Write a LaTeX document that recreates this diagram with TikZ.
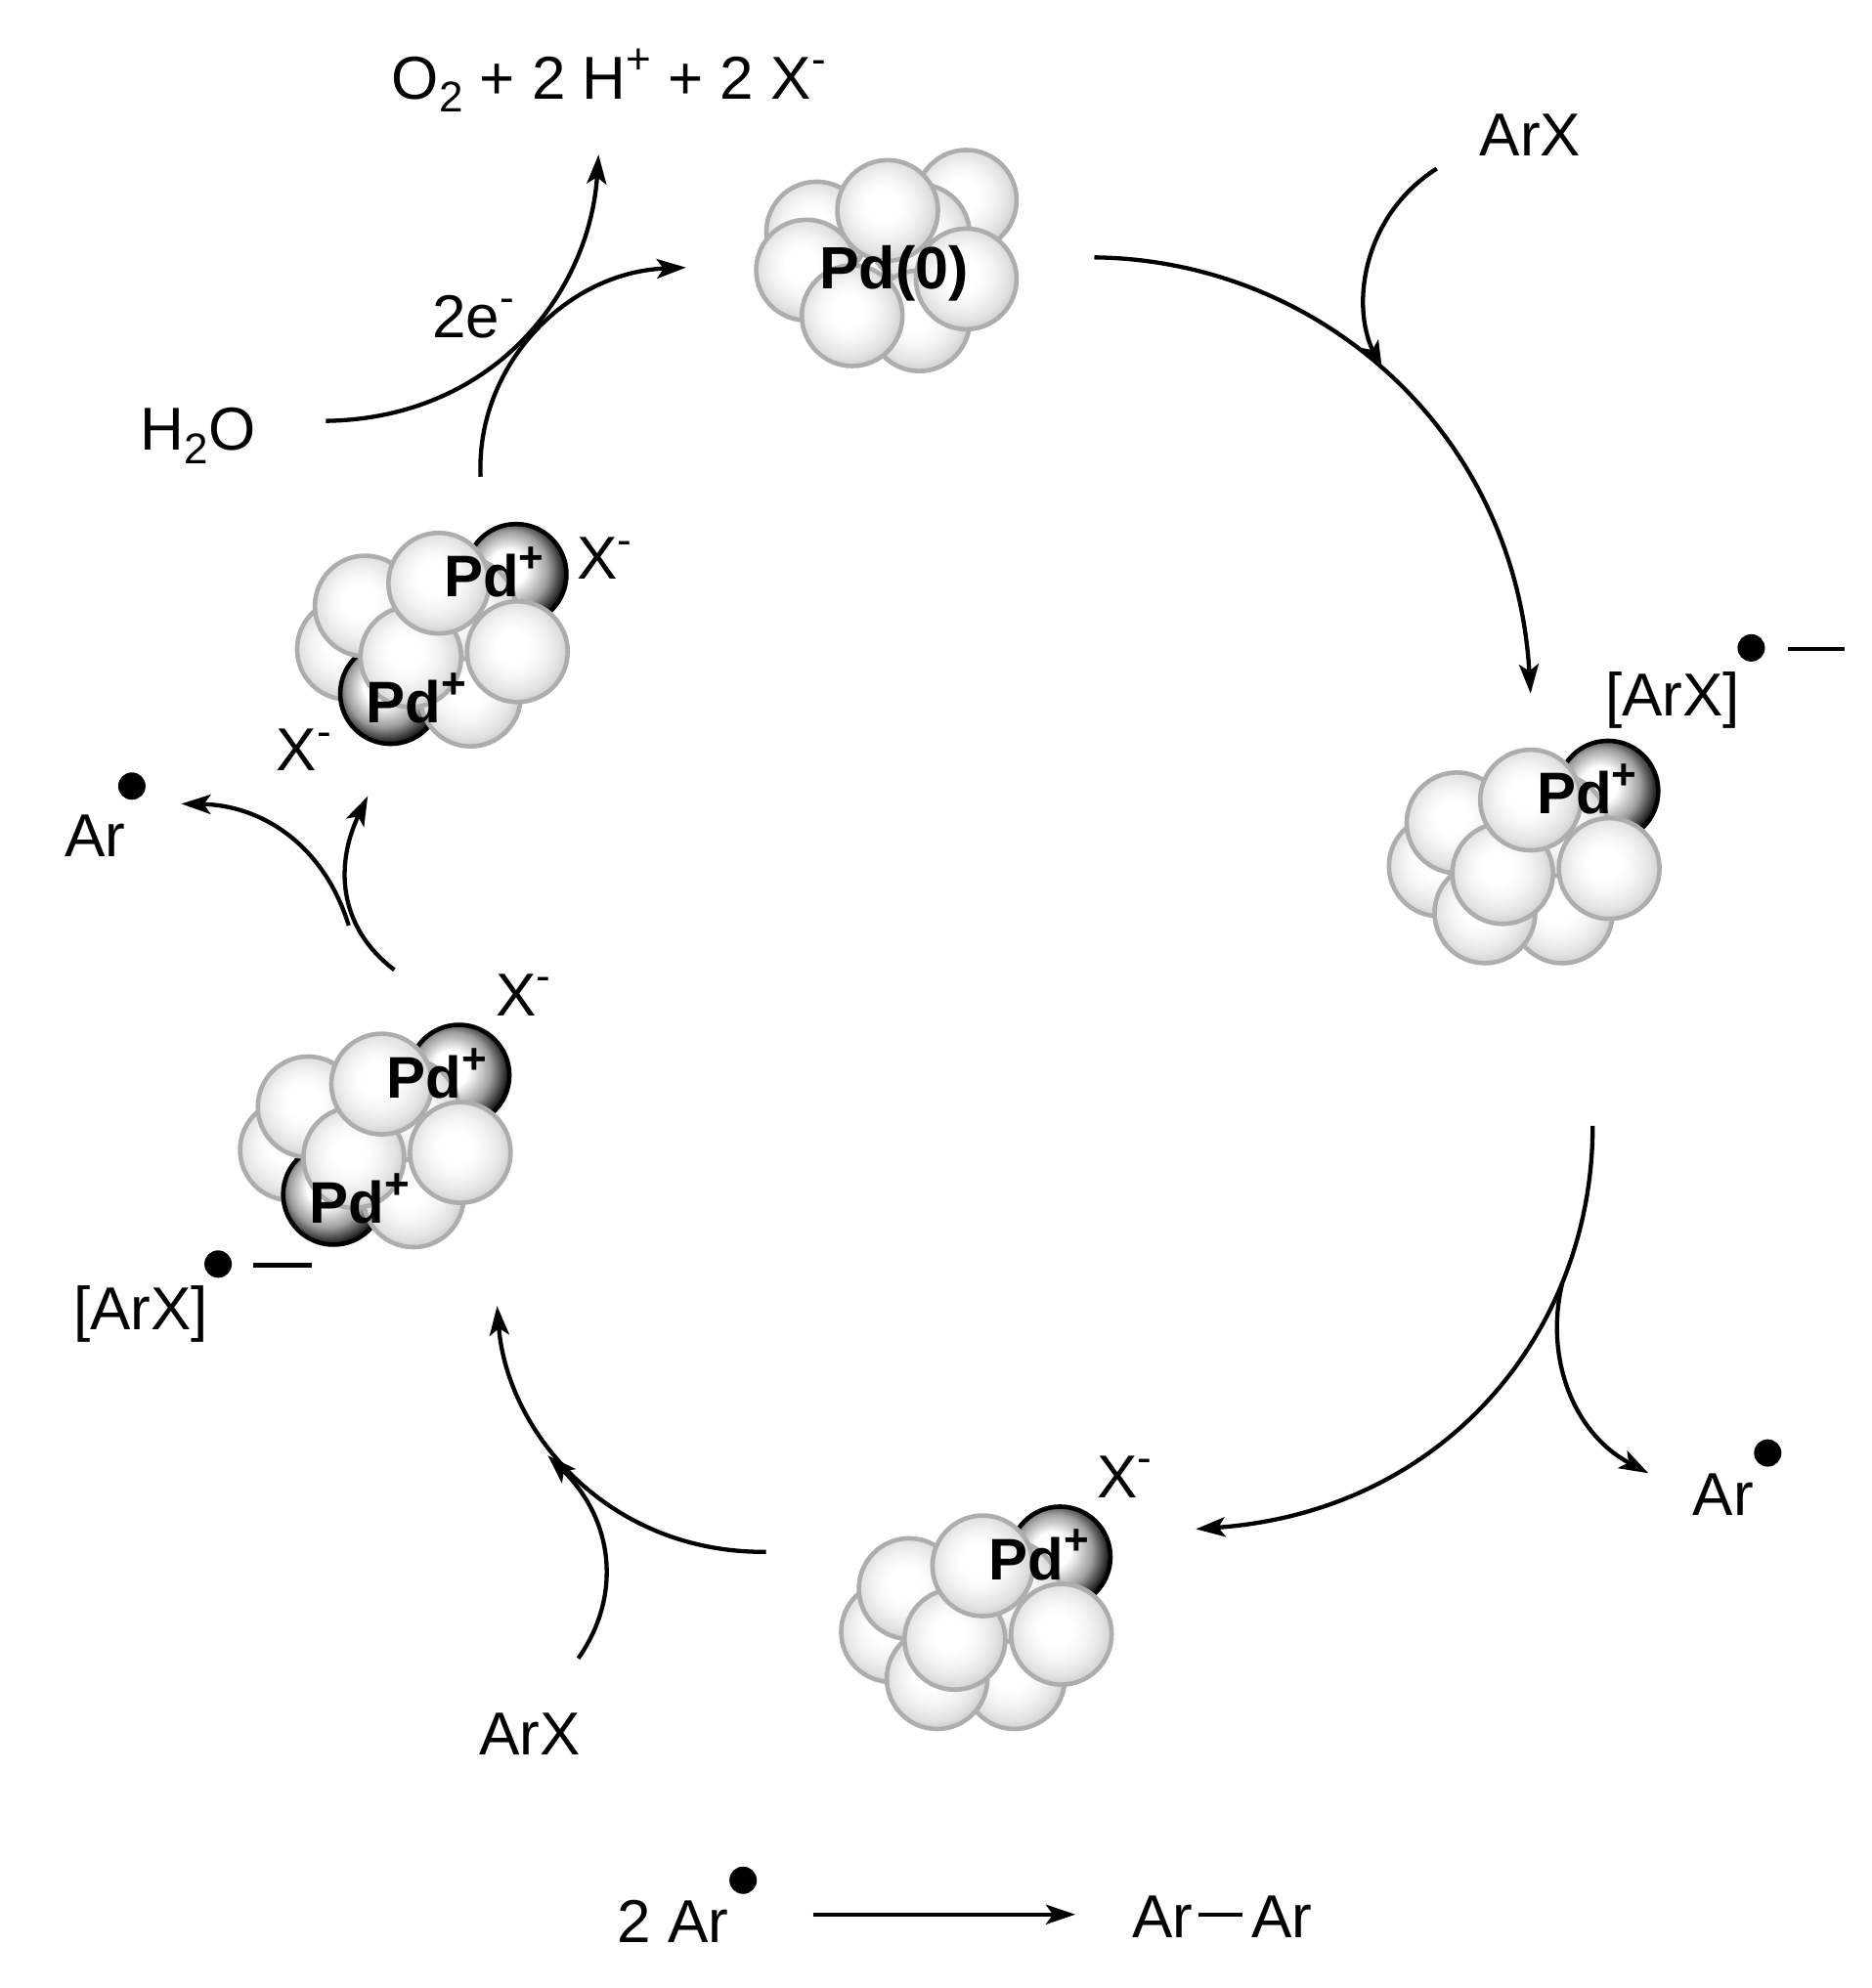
\documentclass[tikz,border=0pt]{standalone}
\usepackage{fontspec}
\setmainfont{Liberation Sans}
\usetikzlibrary{arrows.meta}
\definecolor{ballhi}{gray}{0.96}
\definecolor{ballmid}{gray}{0.89}
\definecolor{ballrim}{gray}{0.79}
\definecolor{ballline}{gray}{0.68}
\definecolor{darkmid}{gray}{0.62}
\pgfdeclareradialshading{ballshade}{\pgfpoint{-3bp}{3bp}}{color(0bp)=(white);color(8bp)=(white);color(15bp)=(ballhi);color(22bp)=(ballmid);color(28bp)=(ballrim);color(50bp)=(ballrim)}
\pgfdeclareradialshading{darkshade}{\pgfpoint{-5bp}{4bp}}{color(0bp)=(white);color(9bp)=(white);color(19bp)=(darkmid);color(28bp)=(black);color(50bp)=(black)}
\newcommand{\upmark}[1]{\raisebox{0.78ex}{\fontsize{44}{44}\selectfont #1}}
\newcommand{\dnmark}[1]{\raisebox{-0.42ex}{\fontsize{44}{44}\selectfont #1}}
\newcommand{\pdplus}{\textbf{Pd\raisebox{0.8ex}{\fontsize{44}{44}\selectfont +}}}
\tikzset{
  x=1.2974pt,y=-1.2974pt,
  txt/.style={anchor=base west,inner sep=0pt,outer sep=0pt,font=\fontsize{62}{70}\selectfont},
  pdlabel/.style={anchor=base west,inner sep=0pt,outer sep=0pt,font=\fontsize{60}{66}\selectfont},
  ball/.style={circle,inner sep=0pt,minimum size=103pt,draw=ballline,line width=4.6pt,shade,shading=ballshade},
  darkball/.style={circle,inner sep=0pt,minimum size=103pt,draw=black,line width=4.6pt,shade,shading=darkshade},
  dotmark/.style={circle,fill=black,inner sep=0pt,minimum size=28pt},
  curly/.style={line width=4.3pt,-{Stealth[length=30pt,width=20pt,inset=7pt]}},
  plainline/.style={line width=4.3pt}
}
\newcommand{\clusterone}[3]{%
 \begin{scope}[shift={(#2,#3)},name prefix=#1-]
  \node[ball] (a) at (-133,59) {};
  \node[ball] (c) at (-36,96) {};
  \node[ball] (b) at (-97,96) {};
  \node[ball] (d) at (-119,25) {};
  \node[darkball] (p) at (0,0) {};
  \node[ball] (h) at (-40,27) {};
  \node[ball] (e) at (-83,65) {};
  \node[ball] (f) at (-61,7) {};
  \node[ball] (g) at (1,61) {};
  \node[pdlabel] (l) at (-56,18) {\pdplus};
 \end{scope}}
\newcommand{\clustertwo}[3]{%
 \begin{scope}[shift={(#2,#3)},name prefix=#1-]
  \node[ball] (a) at (-133,59) {};
  \node[darkball] (q) at (-99,94) {};
  \node[ball] (c) at (-36,96) {};
  \node[ball] (d) at (-119,25) {};
  \node[darkball] (p) at (0,0) {};
  \node[ball] (h) at (-40,27) {};
  \node[ball] (e) at (-83,65) {};
  \node[ball] (f) at (-61,7) {};
  \node[ball] (g) at (1,61) {};
  \node[pdlabel] (l) at (-57,18) {\pdplus};
  \node[pdlabel] (m) at (-118,117) {\pdplus};
 \end{scope}}
\begin{document}
\begin{tikzpicture}
\useasboundingbox (0,0) rectangle (1476,1568);

% Pd(0) cluster
\node[ball] (z1) at (762,158) {};
\node[ball] (z2) at (644,183) {};
\node[ball] (z3) at (725,185) {};
\node[ball] (z4) at (725,253) {};
\node[ball] (z5) at (636,213) {};
\node[ball] (z6) at (700,166) {};
\node[ball] (z7) at (672,249) {};
\node[ball] (z8) at (762,220) {};
\node[anchor=base west,inner sep=0pt,font=\fontsize{61}{70}\selectfont\bfseries] (pd0) at (646,228) {Pd(0)};

\clusterone{ca}{1268}{624}
\clusterone{cb}{836}{1228}
\clustertwo{cc}{362}{848}
\clustertwo{cd}{407}{453}

% texts
\node[txt] (oxy) at (309,78) {O\dnmark{2} + 2 H\upmark{+} + 2 X\upmark{-}};
\node[txt] (arx1) at (1167,123) {ArX};
\node[txt] (twoe) at (341,266) {2e\upmark{-}};
\node[txt] (water) at (111,355) {H\dnmark{2}O};
\node[txt] (x1) at (455,457) {X\upmark{-}};
\node[txt] (x2) at (218,608) {X\upmark{-}};
\node[txt] (ar1) at (51,676) {Ar};
\node[dotmark] (dot1) at (104,620) {};
\node[txt] (x3) at (391,801) {X\upmark{-}};
\node[txt] (rad1) at (58,1049) {[ArX]};
\node[dotmark] (dot2) at (172,997) {};
\node[txt] (rad2) at (1266,565) {[ArX]};
\node[dotmark] (dot3) at (1381,511) {};
\node[txt] (x4) at (865,1181) {X\upmark{-}};
\node[txt] (ar2) at (1335,1195) {Ar};
\node[dotmark] (dot4) at (1394,1146) {};
\node[txt] (arx2) at (378,1384) {ArX};
\node[txt] (twoar) at (487,1532) {2 Ar};
\node[dotmark] (dot5) at (586,1483) {};
\node[txt] (ar3) at (893,1528) {Ar};
\node[txt] (ar4) at (987,1528) {Ar};

% free ends
\coordinate (m1a) at (200,998); \coordinate (m1b) at (246,998);
\coordinate (m2a) at (1410,512); \coordinate (m2b) at (1455,512);
\coordinate (bonda) at (945,1510); \coordinate (bondb) at (980,1510);
\coordinate (ra) at (641,1510); \coordinate (rb) at (848,1510);
\draw[plainline] (m1a) -- (m1b);
\draw[plainline] (m2a) -- (m2b);
\draw[plainline] (bonda) -- (bondb);
\draw[curly] (ra) -- (rb);

% curved arrows
\coordinate (s1) at (863,203); \coordinate (e1) at (1207,547);
\draw[curly] (s1) .. controls (1040,205) and (1195,340) .. (e1);
\coordinate (s2) at (1133,133); \coordinate (e2) at (1090,292);
\draw[curly] (s2) .. controls (1075,170) and (1065,240) .. (e2);
\coordinate (s3) at (1256,888); \coordinate (e3) at (943,1206);
\draw[curly] (s3) .. controls (1256,1050) and (1140,1192) .. (e3);
\coordinate (s4) at (1232,1012); \coordinate (e4) at (1300,1162);
\draw[curly] (s4) .. controls (1218,1070) and (1240,1130) .. (e4);
\coordinate (s5) at (604,1224); \coordinate (e5) at (392,1030);
\draw[curly] (s5) .. controls (480,1225) and (400,1130) .. (e5);
\coordinate (s6) at (456,1308); \coordinate (e6) at (432,1148);
\draw[curly] (s6) .. controls (490,1260) and (485,1200) .. (e6);
\coordinate (s7) at (311,765); \coordinate (e7) at (290,628);
\draw[curly] (s7) .. controls (265,730) and (265,680) .. (e7);
\coordinate (s8) at (275,730); \coordinate (e8) at (143,634);
\draw[curly] (s8) .. controls (255,665) and (205,635) .. (e8);
\coordinate (s9) at (379,376); \coordinate (e9) at (541,211);
\draw[curly] (s9) .. controls (375,290) and (445,215) .. (e9);
\coordinate (s10) at (257,332); \coordinate (e10) at (472,122);
\draw[curly] (s10) .. controls (390,330) and (465,230) .. (e10);
\end{tikzpicture}
\end{document}
